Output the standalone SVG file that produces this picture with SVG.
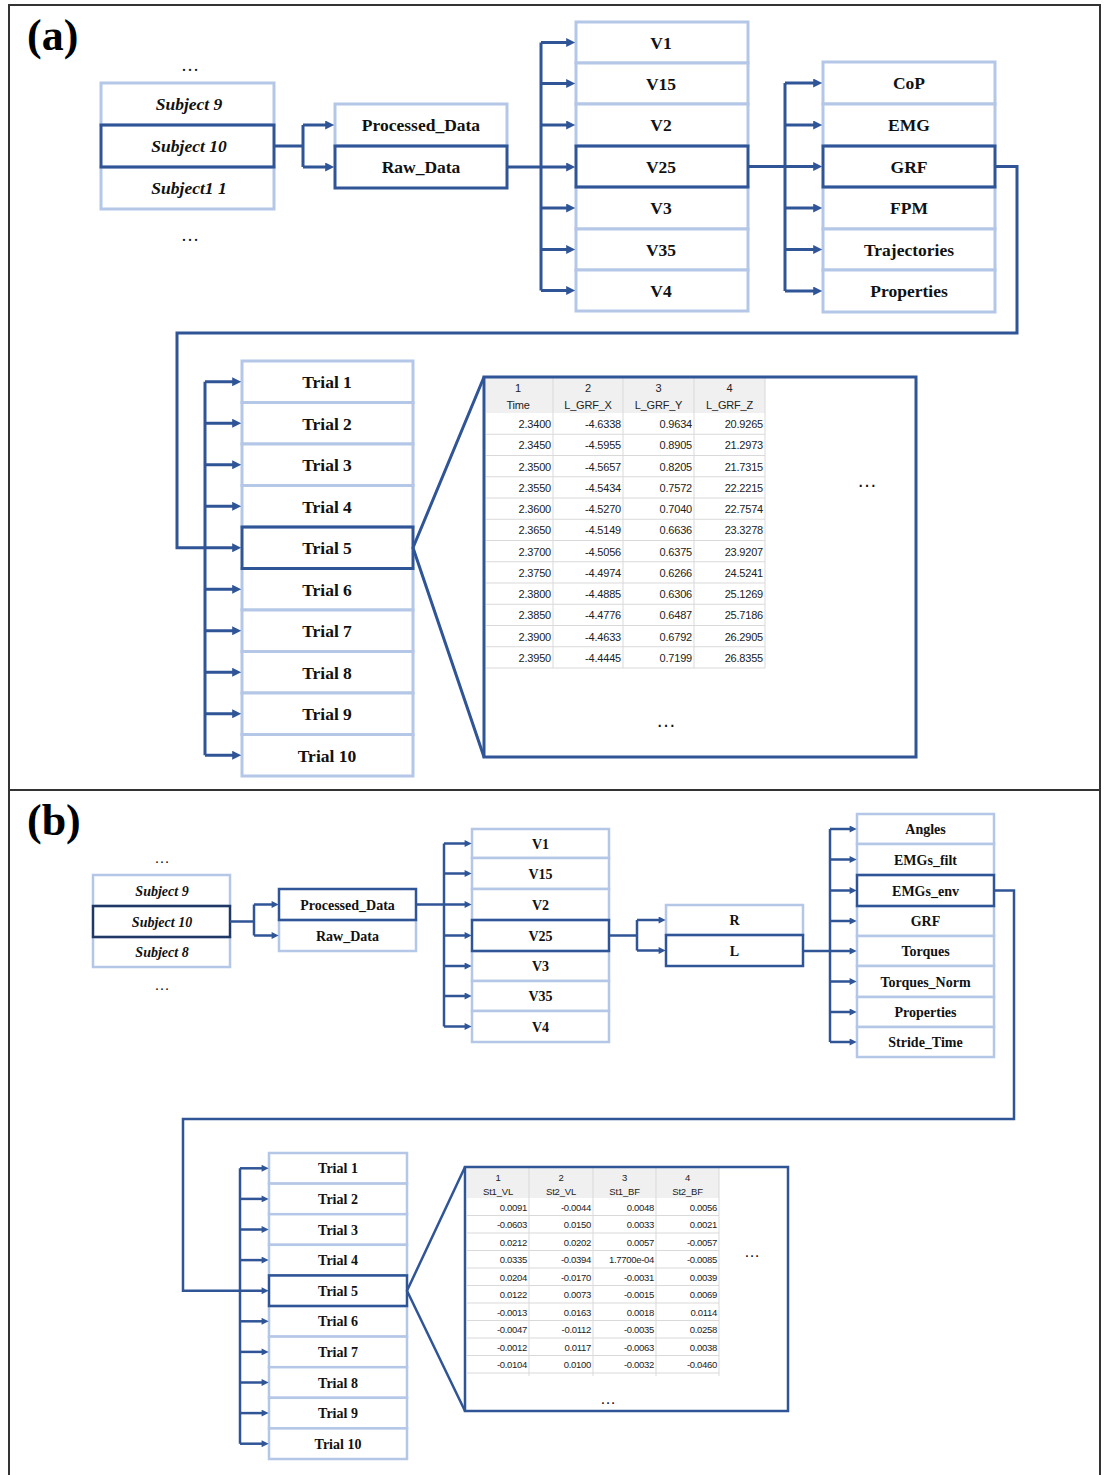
<svg xmlns="http://www.w3.org/2000/svg" width="1106" height="1475" viewBox="0 0 1106 1475">
<style>
.lb{fill:#fff;stroke:#b4c7e7;stroke-width:3}
.db{fill:none;stroke:#2f5597;stroke-width:3}
.lb2{fill:#fff;stroke:#b4c7e7;stroke-width:2.5}
.db2{fill:none;stroke:#2f5597;stroke-width:2.5}
.t{font-family:"Liberation Serif","Times New Roman",serif;font-weight:bold;font-size:17.5px;text-anchor:middle;fill:#111}
.t2{font-family:"Liberation Serif","Times New Roman",serif;font-weight:bold;font-size:14px;text-anchor:middle;fill:#111}
.it{font-style:italic}
.pl{font-family:"Liberation Serif","Times New Roman",serif;font-weight:bold;font-size:44px;fill:#000}
.el{font-family:"Liberation Serif","Times New Roman",serif;font-size:18px;text-anchor:middle;fill:#111}
.el2{font-family:"Liberation Serif","Times New Roman",serif;font-size:15px;text-anchor:middle;fill:#111}
.tel{font-family:"Liberation Sans",Arial,sans-serif;font-size:20px;text-anchor:middle;fill:#111}
.tel2{font-family:"Liberation Sans",Arial,sans-serif;font-size:16px;text-anchor:middle;fill:#111}
.c{fill:none;stroke:#2f5597;stroke-width:3}
.ca{fill:none;stroke:#2f5597;stroke-width:3;marker-end:url(#ah)}
.c2{fill:none;stroke:#2f5597;stroke-width:2.5}
.ca2{fill:none;stroke:#2f5597;stroke-width:2.5;marker-end:url(#ah2)}
.hd{fill:#f0f0f0}
.gl{stroke:#d9d9d9;stroke-width:1;fill:none}
.th{font-family:"Liberation Sans",Arial,sans-serif;font-size:11px;text-anchor:middle;fill:#222;letter-spacing:-0.2px}
.td{font-family:"Liberation Sans",Arial,sans-serif;font-size:11px;text-anchor:end;fill:#222;letter-spacing:-0.2px}
.th2{font-family:"Liberation Sans",Arial,sans-serif;font-size:9.5px;text-anchor:middle;fill:#222;letter-spacing:-0.2px}
.td2{font-family:"Liberation Sans",Arial,sans-serif;font-size:9.5px;text-anchor:end;fill:#222;letter-spacing:-0.3px}
.frame{fill:none;stroke:#333;stroke-width:2}
</style>
<defs>
<marker id="ah" viewBox="0 0 10 10" refX="2" refY="5" markerWidth="10" markerHeight="9" markerUnits="userSpaceOnUse" orient="auto"><path d="M0,0 L10,5 L0,10 z" fill="#2f5597"/></marker>
<marker id="ah2" viewBox="0 0 10 10" refX="2" refY="5" markerWidth="8" markerHeight="7" markerUnits="userSpaceOnUse" orient="auto"><path d="M0,0 L10,5 L0,10 z" fill="#2f5597"/></marker>
</defs>
<rect x="0" y="0" width="1106" height="1475" fill="#fff"/>
<g id="frame">
<rect class="frame" x="9" y="5" width="1091" height="1480"/>
<line x1="9" y1="790" x2="1100" y2="790" stroke="#333" stroke-width="2"/>
</g>
<text class="pl" x="27" y="50">(a)</text>
<text class="pl" x="27" y="835">(b)</text>

<!-- ===== Panel (a) ===== -->
<text class="el" x="190" y="71">…</text>
<text class="el" x="190" y="241">…</text>
<g id="a-subject9"><rect class="lb" x="101" y="83" width="173" height="42"/><text class="t it" x="189" y="110">Subject 9</text></g>
<g id="a-subject11"><rect class="lb" x="101" y="167" width="173" height="42"/><text class="t it" x="189" y="194">Subject1 1</text></g>
<g id="a-subject10"><rect class="db" x="101" y="125" width="173" height="42"/><text class="t it" x="189" y="152">Subject 10</text></g>

<g id="a-processed"><rect class="lb" x="335" y="104" width="172" height="42"/><text class="t" x="421" y="131">Processed_Data</text></g>
<g id="a-raw"><rect class="db" x="335" y="146" width="172" height="42"/><text class="t" x="421" y="173">Raw_Data</text></g>

<g id="a-v1"><rect class="lb" x="576" y="22" width="172" height="41"/><text class="t" x="661" y="48.5">V1</text></g>
<g id="a-v15"><rect class="lb" x="576" y="63" width="172" height="41"/><text class="t" x="661" y="89.5">V15</text></g>
<g id="a-v2"><rect class="lb" x="576" y="104" width="172" height="42"/><text class="t" x="661" y="131">V2</text></g>
<g id="a-v3"><rect class="lb" x="576" y="187" width="172" height="42"/><text class="t" x="661" y="214">V3</text></g>
<g id="a-v35"><rect class="lb" x="576" y="229" width="172" height="41"/><text class="t" x="661" y="255.5">V35</text></g>
<g id="a-v4"><rect class="lb" x="576" y="270" width="172" height="41"/><text class="t" x="661" y="297">V4</text></g>
<g id="a-v25"><rect class="db" x="576" y="146" width="172" height="41"/><text class="t" x="661" y="172.5">V25</text></g>

<g id="a-cop"><rect class="lb" x="823" y="62" width="172" height="42"/><text class="t" x="909" y="89">CoP</text></g>
<g id="a-emg"><rect class="lb" x="823" y="104" width="172" height="42"/><text class="t" x="909" y="131">EMG</text></g>
<g id="a-fpm"><rect class="lb" x="823" y="187" width="172" height="42"/><text class="t" x="909" y="214">FPM</text></g>
<g id="a-traj"><rect class="lb" x="823" y="229" width="172" height="41"/><text class="t" x="909" y="255.5">Trajectories</text></g>
<g id="a-props"><rect class="lb" x="823" y="270" width="172" height="42"/><text class="t" x="909" y="297">Properties</text></g>
<g id="a-grf"><rect class="db" x="823" y="146" width="172" height="41"/><text class="t" x="909" y="172.5">GRF</text></g>

<g id="a-trial1"><rect class="lb" x="242" y="361" width="171" height="41.5"/><text class="t" x="327" y="388">Trial 1</text></g>
<g id="a-trial2"><rect class="lb" x="242" y="402.5" width="171" height="41.5"/><text class="t" x="327" y="429.5">Trial 2</text></g>
<g id="a-trial3"><rect class="lb" x="242" y="444" width="171" height="41.5"/><text class="t" x="327" y="471">Trial 3</text></g>
<g id="a-trial4"><rect class="lb" x="242" y="485.5" width="171" height="41.5"/><text class="t" x="327" y="512.5">Trial 4</text></g>
<g id="a-trial6"><rect class="lb" x="242" y="568.5" width="171" height="41.5"/><text class="t" x="327" y="595.5">Trial 6</text></g>
<g id="a-trial7"><rect class="lb" x="242" y="610" width="171" height="41.5"/><text class="t" x="327" y="637">Trial 7</text></g>
<g id="a-trial8"><rect class="lb" x="242" y="651.5" width="171" height="41.5"/><text class="t" x="327" y="678.5">Trial 8</text></g>
<g id="a-trial9"><rect class="lb" x="242" y="693" width="171" height="41.5"/><text class="t" x="327" y="720">Trial 9</text></g>
<g id="a-trial10"><rect class="lb" x="242" y="734.5" width="171" height="41.5"/><text class="t" x="327" y="761.5">Trial 10</text></g>
<g id="a-trial5"><rect class="db" x="242" y="527" width="171" height="41.5"/><text class="t" x="327" y="554">Trial 5</text></g>

<g id="a-table">
<rect class="hd" x="486" y="378" width="279" height="35"/>
<path class="gl" d="M553,378V668M623,378V668M694,378V668M765,378V668"/>
<path class="gl" d="M486,434.25H765M486,455.5H765M486,476.75H765M486,498H765M486,519.25H765M486,540.5H765M486,561.75H765M486,583H765M486,604.25H765M486,625.5H765M486,646.75H765M486,668H765"/>
<text class="th" x="518" y="392">1</text><text class="th" x="588" y="392">2</text><text class="th" x="658.5" y="392">3</text><text class="th" x="729.5" y="392">4</text>
<text class="th" x="518" y="409">Time</text><text class="th" x="588" y="409">L_GRF_X</text><text class="th" x="658.5" y="409">L_GRF_Y</text><text class="th" x="729.5" y="409">L_GRF_Z</text>
<text class="td" x="551" y="428">2.3400</text><text class="td" x="621" y="428">-4.6338</text><text class="td" x="692" y="428">0.9634</text><text class="td" x="763" y="428">20.9265</text>
<text class="td" x="551" y="449.25">2.3450</text><text class="td" x="621" y="449.25">-4.5955</text><text class="td" x="692" y="449.25">0.8905</text><text class="td" x="763" y="449.25">21.2973</text>
<text class="td" x="551" y="470.5">2.3500</text><text class="td" x="621" y="470.5">-4.5657</text><text class="td" x="692" y="470.5">0.8205</text><text class="td" x="763" y="470.5">21.7315</text>
<text class="td" x="551" y="491.75">2.3550</text><text class="td" x="621" y="491.75">-4.5434</text><text class="td" x="692" y="491.75">0.7572</text><text class="td" x="763" y="491.75">22.2215</text>
<text class="td" x="551" y="513">2.3600</text><text class="td" x="621" y="513">-4.5270</text><text class="td" x="692" y="513">0.7040</text><text class="td" x="763" y="513">22.7574</text>
<text class="td" x="551" y="534.25">2.3650</text><text class="td" x="621" y="534.25">-4.5149</text><text class="td" x="692" y="534.25">0.6636</text><text class="td" x="763" y="534.25">23.3278</text>
<text class="td" x="551" y="555.5">2.3700</text><text class="td" x="621" y="555.5">-4.5056</text><text class="td" x="692" y="555.5">0.6375</text><text class="td" x="763" y="555.5">23.9207</text>
<text class="td" x="551" y="576.75">2.3750</text><text class="td" x="621" y="576.75">-4.4974</text><text class="td" x="692" y="576.75">0.6266</text><text class="td" x="763" y="576.75">24.5241</text>
<text class="td" x="551" y="598">2.3800</text><text class="td" x="621" y="598">-4.4885</text><text class="td" x="692" y="598">0.6306</text><text class="td" x="763" y="598">25.1269</text>
<text class="td" x="551" y="619.25">2.3850</text><text class="td" x="621" y="619.25">-4.4776</text><text class="td" x="692" y="619.25">0.6487</text><text class="td" x="763" y="619.25">25.7186</text>
<text class="td" x="551" y="640.5">2.3900</text><text class="td" x="621" y="640.5">-4.4633</text><text class="td" x="692" y="640.5">0.6792</text><text class="td" x="763" y="640.5">26.2905</text>
<text class="td" x="551" y="661.75">2.3950</text><text class="td" x="621" y="661.75">-4.4445</text><text class="td" x="692" y="661.75">0.7199</text><text class="td" x="763" y="661.75">26.8355</text>
<text class="tel" x="867" y="487">…</text>
<text class="tel" x="666" y="727">…</text>
<rect class="db" x="484" y="377" width="432" height="380"/>
</g>

<!-- ===== Panel (b) ===== -->
<text class="el2" x="162" y="863">…</text>
<text class="el2" x="162" y="990">…</text>
<g id="b-subject9"><rect class="lb2" x="93" y="875" width="137" height="31"/><text class="t2 it" x="162" y="895.5">Subject 9</text></g>
<g id="b-subject8"><rect class="lb2" x="93" y="937" width="137" height="30"/><text class="t2 it" x="162" y="957">Subject 8</text></g>
<g id="b-subject10"><rect fill="none" stroke="#1f3864" stroke-width="2.5" x="93" y="906" width="137" height="31"/><text class="t2 it" x="162" y="926.5">Subject 10</text></g>

<g id="b-raw"><rect class="lb2" x="279" y="920" width="137" height="31"/><text class="t2" x="347.5" y="940.5">Raw_Data</text></g>
<g id="b-processed"><rect class="db2" x="279" y="889" width="137" height="31"/><text class="t2" x="347.5" y="909.5">Processed_Data</text></g>

<g id="b-v1"><rect class="lb2" x="472" y="829" width="137" height="29"/><text class="t2" x="540.5" y="848.5">V1</text></g>
<g id="b-v15"><rect class="lb2" x="472" y="858" width="137" height="31"/><text class="t2" x="540.5" y="878.5">V15</text></g>
<g id="b-v2"><rect class="lb2" x="472" y="889" width="137" height="31"/><text class="t2" x="540.5" y="909.5">V2</text></g>
<g id="b-v3"><rect class="lb2" x="472" y="951" width="137" height="30"/><text class="t2" x="540.5" y="971">V3</text></g>
<g id="b-v35"><rect class="lb2" x="472" y="981" width="137" height="30"/><text class="t2" x="540.5" y="1001">V35</text></g>
<g id="b-v4"><rect class="lb2" x="472" y="1011" width="137" height="31"/><text class="t2" x="540.5" y="1031.5">V4</text></g>
<g id="b-v25"><rect class="db2" x="472" y="920" width="137" height="31"/><text class="t2" x="540.5" y="940.5">V25</text></g>

<g id="b-r"><rect class="lb2" x="666" y="905" width="137" height="30"/><text class="t2" x="734.5" y="925">R</text></g>
<g id="b-l"><rect class="db2" x="666" y="935" width="137" height="31"/><text class="t2" x="734.5" y="955.5">L</text></g>

<g id="b-angles"><rect class="lb2" x="857" y="814" width="137" height="30"/><text class="t2" x="925.5" y="834">Angles</text></g>
<g id="b-emgsfilt"><rect class="lb2" x="857" y="844" width="137" height="31"/><text class="t2" x="925.5" y="864.5">EMGs_filt</text></g>
<g id="b-grf"><rect class="lb2" x="857" y="906" width="137" height="30"/><text class="t2" x="925.5" y="926">GRF</text></g>
<g id="b-torques"><rect class="lb2" x="857" y="936" width="137" height="30"/><text class="t2" x="925.5" y="956">Torques</text></g>
<g id="b-torquesnorm"><rect class="lb2" x="857" y="966" width="137" height="31"/><text class="t2" x="925.5" y="986.5">Torques_Norm</text></g>
<g id="b-props"><rect class="lb2" x="857" y="997" width="137" height="30"/><text class="t2" x="925.5" y="1017">Properties</text></g>
<g id="b-stride"><rect class="lb2" x="857" y="1027" width="137" height="30"/><text class="t2" x="925.5" y="1047">Stride_Time</text></g>
<g id="b-emgsenv"><rect class="db2" x="857" y="875" width="137" height="31"/><text class="t2" x="925.5" y="895.5">EMGs_env</text></g>

<g id="b-trial1"><rect class="lb2" x="269" y="1153" width="138" height="30.6"/><text class="t2" x="338" y="1173.3">Trial 1</text></g>
<g id="b-trial2"><rect class="lb2" x="269" y="1183.6" width="138" height="30.6"/><text class="t2" x="338" y="1203.9">Trial 2</text></g>
<g id="b-trial3"><rect class="lb2" x="269" y="1214.2" width="138" height="30.6"/><text class="t2" x="338" y="1234.5">Trial 3</text></g>
<g id="b-trial4"><rect class="lb2" x="269" y="1244.8" width="138" height="30.6"/><text class="t2" x="338" y="1265.1">Trial 4</text></g>
<g id="b-trial6"><rect class="lb2" x="269" y="1306" width="138" height="30.6"/><text class="t2" x="338" y="1326.3">Trial 6</text></g>
<g id="b-trial7"><rect class="lb2" x="269" y="1336.6" width="138" height="30.6"/><text class="t2" x="338" y="1356.9">Trial 7</text></g>
<g id="b-trial8"><rect class="lb2" x="269" y="1367.2" width="138" height="30.6"/><text class="t2" x="338" y="1387.5">Trial 8</text></g>
<g id="b-trial9"><rect class="lb2" x="269" y="1397.8" width="138" height="30.6"/><text class="t2" x="338" y="1418.1">Trial 9</text></g>
<g id="b-trial10"><rect class="lb2" x="269" y="1428.4" width="138" height="30.6"/><text class="t2" x="338" y="1448.7">Trial 10</text></g>
<g id="b-trial5"><rect class="db2" x="269" y="1275.4" width="138" height="30.6"/><text class="t2" x="338" y="1295.7">Trial 5</text></g>

<g id="b-table">
<rect class="hd" x="467" y="1168" width="252" height="30"/>
<path class="gl" d="M529,1168V1376M593,1168V1376M656,1168V1376M719,1168V1376"/>
<path class="gl" d="M467,1215.5H719M467,1233H719M467,1250.5H719M467,1268H719M467,1285.5H719M467,1303H719M467,1320.5H719M467,1338H719M467,1355.5H719M467,1373H719"/>
<text class="th2" x="498" y="1181">1</text><text class="th2" x="561" y="1181">2</text><text class="th2" x="624.5" y="1181">3</text><text class="th2" x="687.5" y="1181">4</text>
<text class="th2" x="498" y="1195">St1_VL</text><text class="th2" x="561" y="1195">St2_VL</text><text class="th2" x="624.5" y="1195">St1_BF</text><text class="th2" x="687.5" y="1195">St2_BF</text>
<text class="td2" x="527" y="1210.5">0.0091</text><text class="td2" x="591" y="1210.5">-0.0044</text><text class="td2" x="654" y="1210.5">0.0048</text><text class="td2" x="717" y="1210.5">0.0056</text>
<text class="td2" x="527" y="1228">-0.0603</text><text class="td2" x="591" y="1228">0.0150</text><text class="td2" x="654" y="1228">0.0033</text><text class="td2" x="717" y="1228">0.0021</text>
<text class="td2" x="527" y="1245.5">0.0212</text><text class="td2" x="591" y="1245.5">0.0202</text><text class="td2" x="654" y="1245.5">0.0057</text><text class="td2" x="717" y="1245.5">-0.0057</text>
<text class="td2" x="527" y="1263">0.0335</text><text class="td2" x="591" y="1263">-0.0394</text><text class="td2" x="654" y="1263">1.7700e-04</text><text class="td2" x="717" y="1263">-0.0085</text>
<text class="td2" x="527" y="1280.5">0.0204</text><text class="td2" x="591" y="1280.5">-0.0170</text><text class="td2" x="654" y="1280.5">-0.0031</text><text class="td2" x="717" y="1280.5">0.0039</text>
<text class="td2" x="527" y="1298">0.0122</text><text class="td2" x="591" y="1298">0.0073</text><text class="td2" x="654" y="1298">-0.0015</text><text class="td2" x="717" y="1298">0.0069</text>
<text class="td2" x="527" y="1315.5">-0.0013</text><text class="td2" x="591" y="1315.5">0.0163</text><text class="td2" x="654" y="1315.5">0.0018</text><text class="td2" x="717" y="1315.5">0.0114</text>
<text class="td2" x="527" y="1333">-0.0047</text><text class="td2" x="591" y="1333">-0.0112</text><text class="td2" x="654" y="1333">-0.0035</text><text class="td2" x="717" y="1333">0.0258</text>
<text class="td2" x="527" y="1350.5">-0.0012</text><text class="td2" x="591" y="1350.5">0.0117</text><text class="td2" x="654" y="1350.5">-0.0063</text><text class="td2" x="717" y="1350.5">0.0038</text>
<text class="td2" x="527" y="1368">-0.0104</text><text class="td2" x="591" y="1368">0.0100</text><text class="td2" x="654" y="1368">-0.0032</text><text class="td2" x="717" y="1368">-0.0460</text>
<text class="tel2" x="752" y="1257">…</text>
<text class="tel2" x="608" y="1404">…</text>
<rect class="db2" x="465" y="1167" width="323" height="244"/>
</g>

<!-- ===== Connectors ===== -->
<g id="connectors">
<path class="c" d="M274,146H303M303,125V167"/>
<path class="ca" d="M303,125H327"/>
<path class="ca" d="M303,167H327"/>

<path class="ca" d="M507,167H568"/>
<path class="c" d="M541,42.5V290.5"/>
<path class="ca" d="M541,42.5H568"/>
<path class="ca" d="M541,83.5H568"/>
<path class="ca" d="M541,125H568"/>
<path class="ca" d="M541,208H568"/>
<path class="ca" d="M541,249.5H568"/>
<path class="ca" d="M541,290.5H568"/>

<path class="ca" d="M748,166.5H815"/>
<path class="c" d="M785,83V291"/>
<path class="ca" d="M785,83H815"/>
<path class="ca" d="M785,125H815"/>
<path class="ca" d="M785,208H815"/>
<path class="ca" d="M785,249.5H815"/>
<path class="ca" d="M785,291H815"/>

<path class="ca" d="M995,166.5H1017V333H177V547.75H234"/>
<path class="c" d="M205,381.75V755.25"/>
<path class="ca" d="M205,381.75H234"/>
<path class="ca" d="M205,423.25H234"/>
<path class="ca" d="M205,464.75H234"/>
<path class="ca" d="M205,506.25H234"/>
<path class="ca" d="M205,589.25H234"/>
<path class="ca" d="M205,630.75H234"/>
<path class="ca" d="M205,672.25H234"/>
<path class="ca" d="M205,713.75H234"/>
<path class="ca" d="M205,755.25H234"/>
<path class="c" d="M484,377L413,547.75L484,757"/>

<path class="c2" d="M230,921.5H254M254,904.5V935.5"/>
<path class="ca2" d="M254,904.5H273"/>
<path class="ca2" d="M254,935.5H273"/>

<path class="ca2" d="M416,904.5H466"/>
<path class="c2" d="M444,843.5V1026.5"/>
<path class="ca2" d="M444,843.5H466"/>
<path class="ca2" d="M444,873.5H466"/>
<path class="ca2" d="M444,935.5H466"/>
<path class="ca2" d="M444,966H466"/>
<path class="ca2" d="M444,996H466"/>
<path class="ca2" d="M444,1026.5H466"/>

<path class="c2" d="M609,935.5H637M637,920V950.5"/>
<path class="ca2" d="M637,920H660"/>
<path class="ca2" d="M637,950.5H660"/>

<path class="ca2" d="M803,951H851"/>
<path class="c2" d="M830,829V1042"/>
<path class="ca2" d="M830,829H851"/>
<path class="ca2" d="M830,859.5H851"/>
<path class="ca2" d="M830,890.5H851"/>
<path class="ca2" d="M830,921H851"/>
<path class="ca2" d="M830,981.5H851"/>
<path class="ca2" d="M830,1012H851"/>
<path class="ca2" d="M830,1042H851"/>

<path class="ca2" d="M994,890.5H1014V1119H183V1290.7H263"/>
<path class="c2" d="M240,1168.3V1443.7"/>
<path class="ca2" d="M240,1168.3H263"/>
<path class="ca2" d="M240,1198.9H263"/>
<path class="ca2" d="M240,1229.5H263"/>
<path class="ca2" d="M240,1260.1H263"/>
<path class="ca2" d="M240,1321.3H263"/>
<path class="ca2" d="M240,1351.9H263"/>
<path class="ca2" d="M240,1382.5H263"/>
<path class="ca2" d="M240,1413.1H263"/>
<path class="ca2" d="M240,1443.7H263"/>
<path class="c2" d="M465,1167L407,1290.7L465,1411"/>
</g>
</svg>
